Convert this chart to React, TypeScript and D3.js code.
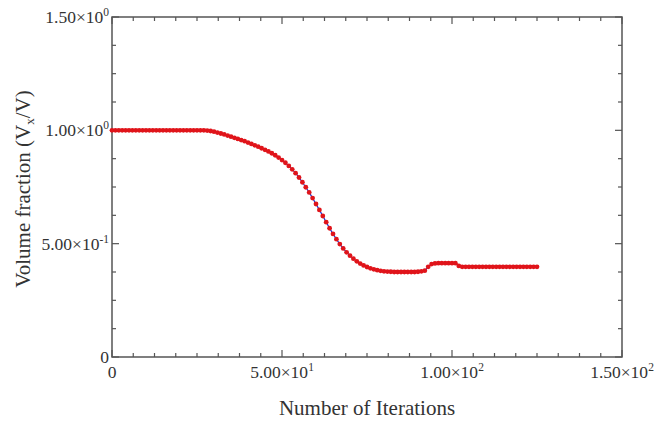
import React from "react";
import * as d3 from "d3";

const iterations: number[] = Array.from({ length: 126 }, (_, i) => i);
const volumeFraction: number[] = [
  1.0, 1.0, 1.0, 1.0, 1.0, 1.0, 1.0, 1.0, 1.0, 1.0,
  1.0, 1.0, 1.0, 1.0, 1.0, 1.0, 1.0, 1.0, 1.0, 1.0,
  1.0, 1.0, 1.0, 1.0, 1.0, 1.0, 1.0, 1.0, 0.999, 0.997,
  0.994, 0.99, 0.986, 0.982, 0.977, 0.972, 0.967, 0.962, 0.957, 0.952,
  0.946, 0.94, 0.934, 0.928, 0.921, 0.914, 0.907, 0.899, 0.89, 0.88,
  0.869, 0.857, 0.843, 0.828, 0.811, 0.792, 0.771, 0.749, 0.726, 0.701,
  0.675, 0.649, 0.622, 0.595, 0.568, 0.543, 0.52, 0.498, 0.479, 0.462,
  0.447, 0.434, 0.422, 0.412, 0.404, 0.397, 0.391, 0.387, 0.383, 0.38,
  0.378, 0.377, 0.376, 0.375, 0.375, 0.375, 0.375, 0.375, 0.375, 0.375,
  0.376, 0.378, 0.381, 0.398, 0.41, 0.413, 0.414, 0.414, 0.414, 0.414,
  0.414, 0.414, 0.402, 0.398, 0.398, 0.398, 0.398, 0.398, 0.398, 0.398,
  0.398, 0.398, 0.398, 0.398, 0.398, 0.398, 0.398, 0.398, 0.398, 0.398,
  0.398, 0.398, 0.398, 0.398, 0.398, 0.398,
];

const xMajorTicks: number[] = [0, 50, 100, 150];
const xMantissa: string[] = ["0", "5.00", "1.00", "1.50"];
const xExponent: string[] = ["", "1", "2", "2"];
const yMajorTicks: number[] = [0, 0.5, 1.0, 1.5];
const yMantissa: string[] = ["0", "5.00", "1.00", "1.50"];
const yExponent: string[] = ["", "-1", "0", "0"];

const W = 660;
const H = 421;
const margin = { left: 112, right: 38, top: 17, bottom: 64 };
const FONT = "'Liberation Serif', 'Times New Roman', serif";
const TXT = "#333";
const AX = "#555";

export default function App() {
  const x = d3.scaleLinear().domain([0, 150]).range([margin.left, W - margin.right]);
  const y = d3.scaleLinear().domain([0, 1.5]).range([H - margin.bottom, margin.top]);
  const x0 = x(0), x1 = x(150), y0 = y(0), y1 = y(1.5);

  const xMinor = d3.range(0, 150.001, 6.25);
  const yMinor = d3.range(0, 1.5001, 0.125);

  const data = iterations.map((it, i) => ({ it, v: volumeFraction[i] }));
  const line = d3
    .line<{ it: number; v: number }>()
    .x((d) => x(d.it))
    .y((d) => y(d.v));

  const isMajorX = (t: number) => Math.abs(t % 50) < 1e-6;
  const isMajorY = (t: number) => Math.abs((t * 1000) % 500) < 1e-3;

  const label = (m: string, e: string) =>
    e === "" ? (
      <tspan>{m}</tspan>
    ) : (
      <>
        <tspan>{m}×10</tspan>
        <tspan fontSize={11.5} dy={-7}>{e}</tspan>
      </>
    );

  return (
    <svg
      width={W}
      height={H}
      style={{ position: "absolute", left: 0, top: 0, background: "#fff" }}
      fontFamily={FONT}
    >
      <rect x={0} y={0} width={W} height={H} fill="#fff" />
      <rect x={x0} y={y1} width={x1 - x0} height={y0 - y1} fill="none" stroke={AX} strokeWidth={1.5} />
      {xMinor.map((t) => {
        const len = isMajorX(t) ? 7 : 4;
        return (
          <g key={"xt" + t} stroke={AX} strokeWidth={1.2}>
            <line x1={x(t)} x2={x(t)} y1={y0} y2={y0 - len} />
            <line x1={x(t)} x2={x(t)} y1={y1} y2={y1 + len} />
          </g>
        );
      })}
      {yMinor.map((t) => {
        const len = isMajorY(t) ? 7 : 4;
        return (
          <g key={"yt" + t} stroke={AX} strokeWidth={1.2}>
            <line x1={x0} x2={x0 + len} y1={y(t)} y2={y(t)} />
            <line x1={x1} x2={x1 - len} y1={y(t)} y2={y(t)} />
          </g>
        );
      })}
      {xMajorTicks.map((t, i) => (
        <text
          key={"xl" + t}
          x={x(t)}
          y={y0 + 21}
          textAnchor="middle"
          fontSize={17.5}
          fill={TXT}
        >
          {label(xMantissa[i], xExponent[i])}
        </text>
      ))}
      {yMajorTicks.map((t, i) => (
        <text
          key={"yl" + t}
          x={x0 - 3}
          y={y(t) + 6}
          textAnchor="end"
          fontSize={17.5}
          fill={TXT}
        >
          {label(yMantissa[i], yExponent[i])}
        </text>
      ))}
      <path d={line(data) || ""} fill="none" stroke="#2233cc" strokeWidth={1.2} />
      {data.map((d) => (
        <circle key={"p" + d.it} cx={x(d.it)} cy={y(d.v)} r={2.4} fill="#e0141a" />
      ))}
      <text x={367} y={415} textAnchor="middle" fontSize={21} fill={TXT}>
        Number of Iterations
      </text>
      <text
        transform={`translate(30, 189) rotate(-90)`}
        textAnchor="middle"
        fontSize={21}
        fill={TXT}
      >
        <tspan>Volume fraction (V</tspan>
        <tspan fontSize={13} dy={4}>x</tspan>
        <tspan dy={-4}>/V)</tspan>
      </text>
    </svg>
  );
}
